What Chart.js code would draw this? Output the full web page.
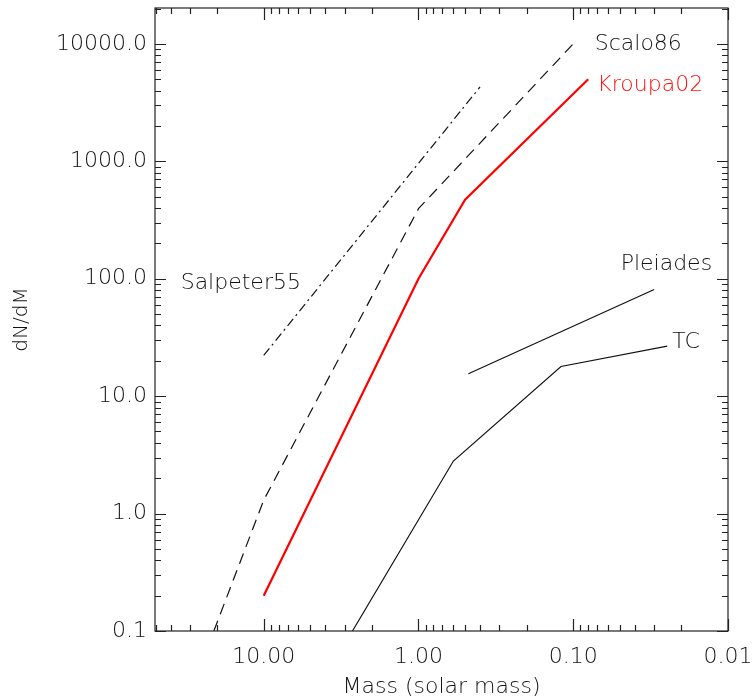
<!DOCTYPE html>
<html>
<head>
<meta charset="utf-8">
<script src="https://cdn.jsdelivr.net/npm/chart.js@4"></script>
<style>
  html, body { margin: 0; padding: 0; background: #fff; }
  #wrap { width: 752px; height: 700px; }
</style>
</head>
<body>
<div id="wrap"><canvas id="imfChart" width="752" height="700"></canvas></div>
<script>
// Mass functions (mass in solar masses, dN/dM)
const salpeterMass = [10, 0.4];
const salpeterN = [22.2, 4300];

const scaloMass = [21, 10, 1, 0.1];
const scaloN = [0.1, 1.3, 395, 10000];

const kroupaMass = [10, 1, 0.5, 0.08];
const kroupaN = [0.2, 100, 470, 5000];

const pleiadesMass = [0.476, 0.030];
const pleiadesN = [15.5, 81];

const tcMass = [2.67, 0.595, 0.12, 0.0247];
const tcN = [0.1, 2.8, 17.9, 26.7];

const xTicks = [10, 1, 0.1, 0.01];
const yTicks = [0.1, 1, 10, 100, 1000, 10000];

// curve labels: text, anchor mass, anchor dN/dM, colour
const curveLabels = [
  { text: "Scalo86", m: 0.0726, n: 10000, color: "#111" },
  { text: "Kroupa02", m: 0.0699, n: 4480, color: "#ff1010" },
  { text: "Salpeter55", m: 34.4, n: 91, color: "#111" },
  { text: "Pleiades", m: 0.0494, n: 134, color: "#111" },
  { text: "TC", m: 0.0229, n: 28.7, color: "#111" }
];

const FONT = "DejaVu Sans";

function pts(xs, ys) {
  return xs.map((x, i) => ({ x: x, y: ys[i] }));
}

function minorValues(lo, hi) {
  const out = [];
  for (let e = Math.floor(Math.log10(lo)); e <= Math.ceil(Math.log10(hi)); e++) {
    for (let k = 1; k <= 9; k++) {
      const v = k * Math.pow(10, e);
      if (v >= lo * 0.999 && v <= hi * 1.001) out.push({ v: v, major: k === 1 });
    }
  }
  return out;
}

function noPad(s) {
  s.paddingLeft = 0; s.paddingRight = 0; s.paddingTop = 0; s.paddingBottom = 0;
}

// IDL-style frame with inward ticks on all four sides
const framePlugin = {
  id: "frame",
  afterDatasetsDraw(chart) {
    const { ctx, chartArea: a, scales } = chart;
    const xs = scales.x, ys = scales.y;
    ctx.save();
    ctx.strokeStyle = "#222";
    ctx.lineWidth = 1.2;
    ctx.strokeRect(a.left, a.top, a.right - a.left, a.bottom - a.top);
    ctx.beginPath();
    minorValues(xs.min, xs.max).forEach(t => {
      const px = Math.round(xs.getPixelForValue(t.v)) + 0.5;
      const len = t.major ? 12 : 6;
      ctx.moveTo(px, a.bottom); ctx.lineTo(px, a.bottom - len);
      ctx.moveTo(px, a.top); ctx.lineTo(px, a.top + len);
    });
    minorValues(ys.min, ys.max).forEach(t => {
      const py = Math.round(ys.getPixelForValue(t.v)) + 0.5;
      const len = t.major ? 11 : 6;
      ctx.moveTo(a.left, py); ctx.lineTo(a.left + len, py);
      ctx.moveTo(a.right, py); ctx.lineTo(a.right - len, py);
    });
    ctx.stroke();

    ctx.font = "200 22px '" + FONT + "'";
    ctx.textBaseline = "middle";
    ctx.textAlign = "left";
    curveLabels.forEach(l => {
      ctx.fillStyle = l.color;
      ctx.fillText(l.text, xs.getPixelForValue(l.m), ys.getPixelForValue(l.n));
    });
    ctx.restore();
  }
};

const lineDefaults = { showLine: true, pointRadius: 0, borderWidth: 1.2, borderColor: "#111", fill: false, tension: 0 };

new Chart(document.getElementById("imfChart").getContext("2d"), {
  type: "scatter",
  data: {
    datasets: [
      Object.assign({}, lineDefaults, { label: "Salpeter55", data: pts(salpeterMass, salpeterN), borderDash: [9, 4, 2, 4] }),
      Object.assign({}, lineDefaults, { label: "Scalo86", data: pts(scaloMass, scaloN), borderDash: [11, 7] }),
      Object.assign({}, lineDefaults, { label: "Kroupa02", data: pts(kroupaMass, kroupaN), borderColor: "#ff0000", borderWidth: 2.2 }),
      Object.assign({}, lineDefaults, { label: "Pleiades", data: pts(pleiadesMass, pleiadesN) }),
      Object.assign({}, lineDefaults, { label: "TC", data: pts(tcMass, tcN) })
    ]
  },
  options: {
    responsive: false,
    animation: false,
    layout: { padding: { top: 8, right: 24, left: 0, bottom: 0 } },
    plugins: { legend: { display: false }, tooltip: { enabled: false } },
    scales: {
      x: {
        type: "logarithmic",
        reverse: true,
        min: 0.01,
        max: 50.4,
        afterBuildTicks: s => { s.ticks = xTicks.map(v => ({ value: v })); },
        afterFit: s => { s.height = 69; noPad(s); },
        grid: { display: false, drawTicks: false },
        border: { display: false },
        ticks: {
          padding: 13,
          maxRotation: 0,
          autoSkip: false,
          color: "#111",
          font: { family: FONT, size: 22, weight: "200" },
          callback: v => Number(v).toFixed(2)
        },
        title: {
          display: true,
          text: "Mass (solar mass)",
          color: "#111",
          font: { family: FONT, size: 22, weight: "200" },
          padding: { top: 0, bottom: 0 }
        }
      },
      y: {
        type: "logarithmic",
        min: 0.1,
        max: 20200,
        afterBuildTicks: s => { s.ticks = yTicks.map(v => ({ value: v })); },
        afterFit: s => { s.width = 155; noPad(s); },
        grid: { display: false, drawTicks: false },
        border: { display: false },
        ticks: {
          padding: 8,
          autoSkip: false,
          color: "#111",
          font: { family: FONT, size: 22, weight: "200" },
          callback: v => Number(v).toFixed(1)
        },
        title: {
          display: true,
          text: "dN/dM",
          color: "#111",
          font: { family: FONT, size: 20, weight: "200" },
          padding: { top: 10, bottom: 0 }
        }
      }
    }
  },
  plugins: [framePlugin]
});
</script>
</body>
</html>
